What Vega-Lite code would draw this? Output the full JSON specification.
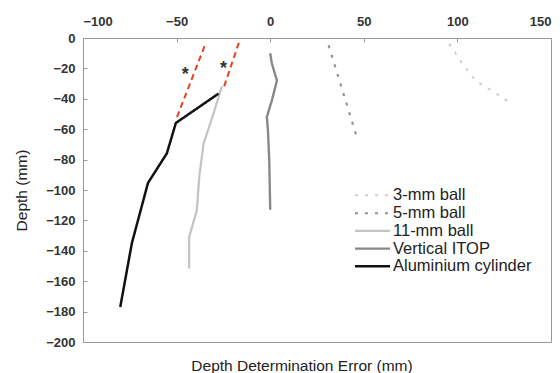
{
  "$schema": "https://vega.github.io/schema/vega-lite/v6.json",
  "width": 468,
  "height": 304,
  "autosize": "none",
  "padding": {"left": 83, "top": 38, "right": 9, "bottom": 31},
  "background": "white",
  "config": {
    "view": {"stroke": "#999", "strokeWidth": 1},
    "font": "Liberation Sans",
    "axis": {"labelFont": "Liberation Sans", "labelFontWeight": "bold", "labelFontSize": 13, "labelColor": "#333", "grid": false, "domain": false, "tickColor": "#999", "tickSize": -4, "titleFont": "Liberation Sans", "titleFontWeight": "normal", "titleFontSize": 15.5, "titleColor": "#222"}
  },
  "title": {"text": "Depth Determination Error (mm)", "orient": "bottom", "fontSize": 15.5, "fontWeight": "normal", "color": "#222", "font": "Liberation Sans", "offset": 10, "dx": -15},
  "datasets": {
    "series": [
      {"name": "3-mm ball", "x": 95.6, "y": -3.7},
      {"name": "3-mm ball", "x": 102.4, "y": -16.4},
      {"name": "3-mm ball", "x": 109.5, "y": -27.8},
      {"name": "3-mm ball", "x": 119.3, "y": -35.5},
      {"name": "3-mm ball", "x": 129.4, "y": -43.6},
      {"name": "5-mm ball", "x": 31.2, "y": -4.8},
      {"name": "5-mm ball", "x": 46.8, "y": -67.3},
      {"name": "11-mm ball", "x": -25.8, "y": -31.8},
      {"name": "11-mm ball", "x": -30.3, "y": -49.7},
      {"name": "11-mm ball", "x": -35.6, "y": -69.5},
      {"name": "11-mm ball", "x": -37.9, "y": -91.4},
      {"name": "11-mm ball", "x": -39.2, "y": -113.4},
      {"name": "11-mm ball", "x": -43.3, "y": -130.9},
      {"name": "11-mm ball", "x": -43.3, "y": -151.7},
      {"name": "Vertical ITOP", "x": 0, "y": -10},
      {"name": "Vertical ITOP", "x": 0.9, "y": -16.8},
      {"name": "Vertical ITOP", "x": 3.6, "y": -28},
      {"name": "Vertical ITOP", "x": 0.9, "y": -41},
      {"name": "Vertical ITOP", "x": -1.8, "y": -52},
      {"name": "Vertical ITOP", "x": -1.2, "y": -60.7},
      {"name": "Vertical ITOP", "x": -0.5, "y": -80.5},
      {"name": "Vertical ITOP", "x": 0, "y": -113},
      {"name": "Aluminium cylinder", "x": -27.6, "y": -36.6},
      {"name": "Aluminium cylinder", "x": -50.4, "y": -55.9},
      {"name": "Aluminium cylinder", "x": -55.2, "y": -75.9},
      {"name": "Aluminium cylinder", "x": -65.3, "y": -95.4},
      {"name": "Aluminium cylinder", "x": -73.9, "y": -135},
      {"name": "Aluminium cylinder", "x": -80.1, "y": -177}
    ],
    "fits": [
      {"fit": "a", "x": -34.4, "y": -3.3},
      {"fit": "a", "x": -49.8, "y": -52},
      {"fit": "b", "x": -16.6, "y": -2.6},
      {"fit": "b", "x": -24.6, "y": -31.8}
    ],
    "marks": [
      {"x": -45.4, "y": -21.9, "label": "*"},
      {"x": -24.9, "y": -18, "label": "*"}
    ]
  },
  "encoding": {
    "x": {"type": "quantitative", "scale": {"domain": [-100, 150], "nice": false}, "axis": {"orient": "top", "values": [-100, -50, 0, 50, 100, 150], "title": null, "labelPadding": 14}},
    "y": {"type": "quantitative", "scale": {"domain": [-200, 0], "nice": false}, "axis": {"orient": "left", "values": [-200, -180, -160, -140, -120, -100, -80, -60, -40, -20, 0], "title": "Depth (mm)", "labelPadding": 12, "titlePadding": 16}}
  },
  "layer": [
    {
      "mark": {"type": "rule", "color": "#444", "strokeWidth": 1.5},
      "encoding": {"x": {"datum": 0}}
    },
    {
      "data": {"name": "series"},
      "mark": {"type": "line"},
      "encoding": {
        "x": {"field": "x"},
        "y": {"field": "y"},
        "order": {"field": "y", "sort": "descending"},
        "color": {"field": "name", "type": "nominal", "scale": {"domain": ["3-mm ball", "5-mm ball", "11-mm ball", "Vertical ITOP", "Aluminium cylinder"], "range": ["#d9c9c9", "#a08a8a", "#c4c4c4", "#888888", "#111111"]},
          "legend": {"title": null, "orient": "none", "legendX": 281, "legendY": 149, "symbolType": "M-2.5,0H2.5", "symbolSize": 196, "symbolFillColor": "transparent", "labelFontSize": 16.5, "labelColor": "#222", "labelFont": "Liberation Sans", "rowPadding": 0.7, "labelOffset": 12}},
        "strokeDash": {"field": "name", "type": "nominal", "scale": {"domain": ["3-mm ball", "5-mm ball", "11-mm ball", "Vertical ITOP", "Aluminium cylinder"], "range": [[3, 7], [3, 7], [1, 0], [1, 0], [1, 0]]}},
        "strokeWidth": {"field": "name", "type": "nominal", "scale": {"domain": ["3-mm ball", "5-mm ball", "11-mm ball", "Vertical ITOP", "Aluminium cylinder"], "range": [2, 2.5, 1.3, 2, 2.2]}}
      }
    },
    {
      "data": {"name": "fits"},
      "mark": {"type": "line", "color": "#e4431f", "strokeWidth": 2, "strokeDash": [6, 4]},
      "encoding": {"x": {"field": "x"}, "y": {"field": "y"}, "detail": {"field": "fit"}}
    },
    {
      "data": {"name": "marks"},
      "mark": {"type": "text", "fontSize": 18, "fontWeight": "bold", "color": "#333", "baseline": "middle", "dy": 4},
      "encoding": {"x": {"field": "x"}, "y": {"field": "y"}, "text": {"field": "label"}}
    }
  ]
}
